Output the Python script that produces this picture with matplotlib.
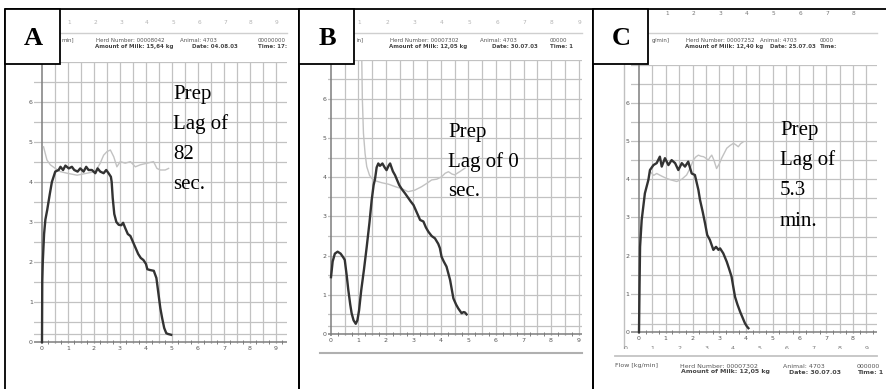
import matplotlib
matplotlib.use("Agg")
import numpy as np
import matplotlib.pyplot as plt
from matplotlib.patches import Rectangle

W, H = 887, 389

# ===== A: prep lag 82 sec =====
A_T = [0.0, 0.01, 0.03, 0.08, 0.13, 0.2, 0.3, 0.38, 0.51, 0.64, 0.71, 0.81, 0.9, 1.03, 1.15, 1.24,
       1.37, 1.47, 1.6, 1.7, 1.79, 1.92, 2.05, 2.14, 2.24, 2.37, 2.47, 2.56, 2.65, 2.68, 2.72, 2.78,
       2.86, 2.95, 3.05, 3.12, 3.2, 3.3, 3.4, 3.5, 3.6, 3.7, 3.8, 3.9, 4.0, 4.05, 4.15, 4.3, 4.4,
       4.48, 4.55, 4.62, 4.7, 4.78, 4.85, 4.97]
A_FLOW = [0.0, 1.5, 2.0, 2.7, 3.06, 3.3, 3.7, 4.0, 4.26, 4.3, 4.38, 4.3, 4.41, 4.34, 4.38, 4.3,
          4.26, 4.34, 4.26, 4.38, 4.3, 4.3, 4.22, 4.34, 4.26, 4.22, 4.3, 4.22, 4.13, 4.0, 3.6, 3.2,
          3.0, 2.93, 2.92, 2.98, 2.85, 2.7, 2.65, 2.5, 2.35, 2.2, 2.1, 2.05, 1.95, 1.82, 1.8, 1.78, 1.6,
          1.2, 0.85, 0.6, 0.35, 0.22, 0.2, 0.18]
A_LIGHT_T = [0.06, 0.19, 0.32, 0.51, 0.7, 0.96, 1.35, 1.73, 2.05, 2.24, 2.37, 2.5, 2.63, 2.76, 2.88,
             3.01, 3.2, 3.4, 3.59, 3.78, 4.04, 4.29, 4.42, 4.55, 4.74, 4.87]
A_LIGHT = [4.88, 4.55, 4.43, 4.34, 4.26, 4.22, 4.17, 4.22, 4.26, 4.47, 4.67, 4.76, 4.8, 4.63, 4.38,
           4.51, 4.47, 4.51, 4.38, 4.43, 4.47, 4.51, 4.34, 4.3, 4.3, 4.34]

# ===== B: prep lag 0 sec =====
B_T = [0.0, 0.06, 0.14, 0.24, 0.35, 0.45, 0.5, 0.57, 0.63, 0.7, 0.75, 0.82, 0.9, 0.96, 1.02, 1.1,
       1.2, 1.3, 1.4, 1.48, 1.55, 1.6, 1.66, 1.72, 1.78, 1.87, 1.95, 2.02, 2.1, 2.15, 2.25, 2.33,
       2.39, 2.48, 2.57, 2.7, 2.8, 2.9, 3.0, 3.12, 3.24, 3.36, 3.45, 3.54, 3.66, 3.78, 3.9, 3.96,
       4.02, 4.1, 4.2, 4.33, 4.45, 4.55, 4.63, 4.7, 4.75, 4.82, 4.87, 4.93]
B_FLOW = [1.45, 1.85, 2.05, 2.1, 2.05, 1.95, 1.89, 1.5, 1.12, 0.75, 0.53, 0.35, 0.26, 0.35, 0.6, 1.12,
          1.65, 2.23, 2.85, 3.42, 3.8, 3.95, 4.25, 4.35, 4.29, 4.35, 4.25, 4.18, 4.3, 4.35, 4.15, 4.05,
          3.95, 3.8, 3.7, 3.58, 3.48, 3.38, 3.29, 3.1, 2.91, 2.87, 2.72, 2.61, 2.5, 2.44, 2.3, 2.19,
          1.97, 1.85, 1.72, 1.38, 0.91, 0.75, 0.65, 0.58, 0.53, 0.56, 0.55, 0.5]
B_LIGHT_T = [1.12, 1.14, 1.18, 1.24, 1.3, 1.4, 1.48, 1.65, 1.84, 2.1, 2.33, 2.6, 2.8, 3.05, 3.3, 3.5,
             3.66, 3.85, 4.02, 4.15, 4.27, 4.4, 4.5, 4.7, 4.87]
B_LIGHT = [6.95, 6.0, 5.12, 4.6, 4.27, 4.05, 3.97, 3.9, 3.86, 3.82, 3.76, 3.7, 3.63, 3.67, 3.76, 3.85,
           3.93, 3.95, 4.01, 4.1, 4.14, 4.08, 4.06, 4.15, 4.23]

# ===== C: prep lag 5.3 min =====
C_T = [0.0, 0.02, 0.04, 0.1, 0.22, 0.35, 0.41, 0.54, 0.66, 0.78, 0.85, 0.97, 1.1, 1.22, 1.35, 1.47,
       1.6, 1.72, 1.84, 1.97, 2.09, 2.16, 2.22, 2.28, 2.38, 2.47, 2.55, 2.65, 2.78, 2.88, 2.97, 3.03,
       3.15, 3.28, 3.37, 3.46, 3.52, 3.59, 3.68, 3.78, 3.87, 3.96, 4.03, 4.09]
C_FLOW = [0.0, 1.2, 2.23, 2.93, 3.63, 3.98, 4.24, 4.37, 4.42, 4.59, 4.33, 4.55, 4.37, 4.5, 4.42, 4.24,
          4.42, 4.33, 4.46, 4.15, 4.11, 3.9, 3.72, 3.46, 3.15, 2.84, 2.54, 2.41, 2.15, 2.23, 2.15, 2.19,
          2.06, 1.84, 1.65, 1.45, 1.2, 0.92, 0.72, 0.53, 0.38, 0.23, 0.15, 0.1]
C_LIGHT_T = [0.41, 0.55, 0.66, 0.85, 1.03, 1.2, 1.41, 1.6, 1.78, 1.92, 2.03, 2.12, 2.22, 2.32, 2.41,
             2.5, 2.59, 2.66, 2.72, 2.8, 2.9, 3.0, 3.09, 3.2, 3.28, 3.4, 3.53, 3.62, 3.71, 3.8, 3.9]
C_LIGHT = [4.2, 4.1, 4.15, 4.08, 4.02, 3.98, 3.94, 4.0, 4.11, 4.3, 4.5, 4.58, 4.63, 4.6, 4.59,
           4.55, 4.5, 4.58, 4.63, 4.5, 4.28, 4.4, 4.55, 4.7, 4.81, 4.88, 4.94, 4.9, 4.85, 4.93, 4.98]

LETTERS = ["A", "B", "C"]
NOTES = [["Prep", "Lag of", "82", "sec."],
         ["Prep", "Lag of 0", "sec."],
         ["Prep", "Lag of", "5.3", "min."]]
HERD = ["00008042", "00007302", "00007252"]
MILK = ["15,64", "12,05", "12,40"]
DATES = ["04.08.03", "30.07.03", "25.07.03"]
TIME_TXT = ["Time: 17:", "Time: 1", "Time:"]
ZEROS = ["00000000", "00000", "0000"]
UNIT_CUT = ["min]", "in]", "g/min]"]   # what shows of "Flow [kg/min]" beside the letter box
X_LABELS = [list(range(10)), list(range(10)), list(range(9))]
Y_LABELS = list(range(7))

# pixel layout of each printout: x0, px per min, y0, px per kg/min, xmin, xmax
LAYOUT = [(42, 26.0, 342, 40.0, -0.3, 9.42),
          (331, 27.5, 334, 39.2, -0.12, 9.13),
          (639, 26.75, 332, 38.2, -0.3, 8.9)]
BOXES = [(5, 299), (299, 593), (593, 900)]
NOTE_POS = [(173, [99, 129, 159, 189]), (448, [137, 167, 196]), (780, [135, 165, 195, 226])]
HEAD_X = [(96, 180, 258, 192), (390, 480, 550, 492), (686, 760, 820, 770)]
UNIT_X = [62, 357, 652]
SCAN_X = [(27, 287), (320, 582), (615, 877)]

GRID = "#c2c2c2"
AXIS = "#7d7d7d"
DARK = "#333333"
LIGHT = "#c2c2c2"

fig = plt.figure(figsize=(W / 100, H / 100), dpi=100)

series = [(A_T, A_FLOW, A_LIGHT_T, A_LIGHT), (B_T, B_FLOW, B_LIGHT_T, B_LIGHT),
          (C_T, C_FLOW, C_LIGHT_T, C_LIGHT)]

for i, (t, flow, lt, light) in enumerate(series):
    x0, xu, y0, yu, xmin, xmax = LAYOUT[i]
    ymin, ymax = -0.06, 7.0
    left, right = x0 + xmin * xu, x0 + xmax * xu
    top, bottom = y0 - ymax * yu, y0 - ymin * yu
    ax = fig.add_axes([left / W, 1 - bottom / H, (right - left) / W, (bottom - top) / H])
    ax.set_xlim(xmin, xmax)
    ax.set_ylim(ymin, ymax)
    for s in ax.spines.values():
        s.set_visible(False)
    for xv in np.arange(0.5, xmax, 0.5):
        ax.axvline(xv, color=GRID, lw=0.9, zorder=1)
    for yv in list(np.arange(0.5, 7.01, 0.5)) + [0.2]:
        ax.axhline(yv, color=GRID, lw=0.9, zorder=1)
    ax.axhline(0, color=AXIS, lw=1.1, zorder=2)
    ax.axvline(0, color=AXIS, lw=1.1, zorder=2)
    ticks_q = np.arange(0.25, xmax, 0.5)
    ax.plot(ticks_q, np.zeros(len(ticks_q)), "|", color=AXIS, ms=2.5, mew=0.7, zorder=2)
    ax.plot(lt, light, color=LIGHT, lw=1.0, zorder=3)
    ax.plot(t, flow, color=DARK, lw=1.7, zorder=4, solid_joinstyle="round")
    ax.set_xticks(X_LABELS[i])
    ax.set_yticks(Y_LABELS)
    ax.tick_params(length=0, labelsize=4.5, labelcolor="#555555", pad=1)

ov = fig.add_axes([0, 0, 1, 1])
ov.set_xlim(0, W)
ov.set_ylim(H, 0)
ov.axis("off")
ov.patch.set_visible(False)
ov.set_zorder(10)

for i in range(3):
    l, r = BOXES[i]
    sx0, sx1 = SCAN_X[i]
    ov.add_patch(Rectangle((l, 9), r - l, 400, fill=False, ec="black", lw=1.3, zorder=6))
    ov.add_patch(Rectangle((l, 9), 55, 55, fc="white", ec="black", lw=1.3, zorder=6))
    ov.text(l + 28, 38, LETTERS[i], ha="center", va="center", fontsize=19, fontweight="bold",
            family="Liberation Serif", zorder=7)

    nx, ys = NOTE_POS[i]
    for line, yb in zip(NOTES[i], ys):
        ov.text(nx, yb, line, ha="left", va="baseline", fontsize=15, family="Liberation Serif",
                color="black", zorder=5)

    # printout header
    hx, ax_x, zx, dx = HEAD_X[i]
    num_y = 13 if i == 2 else 22
    num_col = "#777777" if i == 2 else "#b4b4b4"
    n_nums = 8 if i == 2 else 9
    x0, xu = LAYOUT[i][0], LAYOUT[i][1]
    for k in range(1, n_nums + 1):
        ov.text(x0 + k * xu + 1, num_y, str(k), ha="center", va="center", fontsize=4.2,
                color=num_col, family="DejaVu Sans", zorder=3)
    ov.plot([sx0, sx1], [33, 33], color="#cfcfcf", lw=1.0, zorder=2)
    ov.text(UNIT_X[i], 40, UNIT_CUT[i], ha="left", va="center", fontsize=4,
            color="#555555", family="DejaVu Sans", zorder=3)
    ov.text(hx, 40, "Herd Number: " + HERD[i], ha="left", va="center", fontsize=4,
            color="#555555", family="DejaVu Sans", zorder=3)
    ov.text(ax_x, 40, "Animal: 4703", ha="left", va="center", fontsize=4,
            color="#555555", family="DejaVu Sans", zorder=3)
    ov.text(zx, 40, ZEROS[i], ha="left", va="center", fontsize=4,
            color="#555555", family="DejaVu Sans", zorder=3)
    ov.text(hx - 1, 46, "Amount of Milk: " + MILK[i] + " kg", ha="left", va="center", fontsize=4,
            fontweight="bold", color="#444444", family="DejaVu Sans", zorder=3)
    ov.text(dx, 46, "Date: " + DATES[i], ha="left", va="center", fontsize=4,
            fontweight="bold", color="#444444", family="DejaVu Sans", zorder=3)
    ov.text(zx, 46, TIME_TXT[i], ha="left", va="center", fontsize=4,
            fontweight="bold", color="#444444", family="DejaVu Sans", zorder=3)

# bottom edge of printout B
ov.plot([320, 582], [353, 353], color="#b0b0b0", lw=1.5, zorder=2)

# printout C: left frame, next sheet's cut numbers, footer
ov.plot([624, 624], [62, 350], color="#c0c0c0", lw=1.0, zorder=2)
for k in range(10):
    ov.text(639 + k * 26.75 - 13, 349, str(k), ha="center", va="center", fontsize=4.5,
            color="#777777", family="DejaVu Sans", zorder=3)
ov.add_patch(Rectangle((600, 349), 280, 5, fc="white", ec="none", zorder=4))
ov.plot([615, 877], [356, 356], color="#c4c4c4", lw=1.3, zorder=2)
ov.text(615, 366, "Flow [kg/min]", ha="left", va="center", fontsize=4.5, color="#555555",
        family="DejaVu Sans", zorder=3)
ov.text(680, 366, "Herd Number: 00007302", ha="left", va="center", fontsize=4.5, color="#555555",
        family="DejaVu Sans", zorder=3)
ov.text(783, 366, "Animal: 4703", ha="left", va="center", fontsize=4.5, color="#555555",
        family="DejaVu Sans", zorder=3)
ov.text(857, 366, "000000", ha="left", va="center", fontsize=4.5, color="#555555",
        family="DejaVu Sans", zorder=3)
ov.text(681, 372, "Amount of Milk: 12,05 kg", ha="left", va="center", fontsize=4.5,
        fontweight="bold", color="#444444", family="DejaVu Sans", zorder=3)
ov.text(789, 372, "Date: 30.07.03", ha="left", va="center", fontsize=4.5, fontweight="bold",
        color="#444444", family="DejaVu Sans", zorder=3)
ov.text(857, 372, "Time: 1", ha="left", va="center", fontsize=4.5, fontweight="bold",
        color="#444444", family="DejaVu Sans", zorder=3)

fig.savefig("out.png", dpi=100)
